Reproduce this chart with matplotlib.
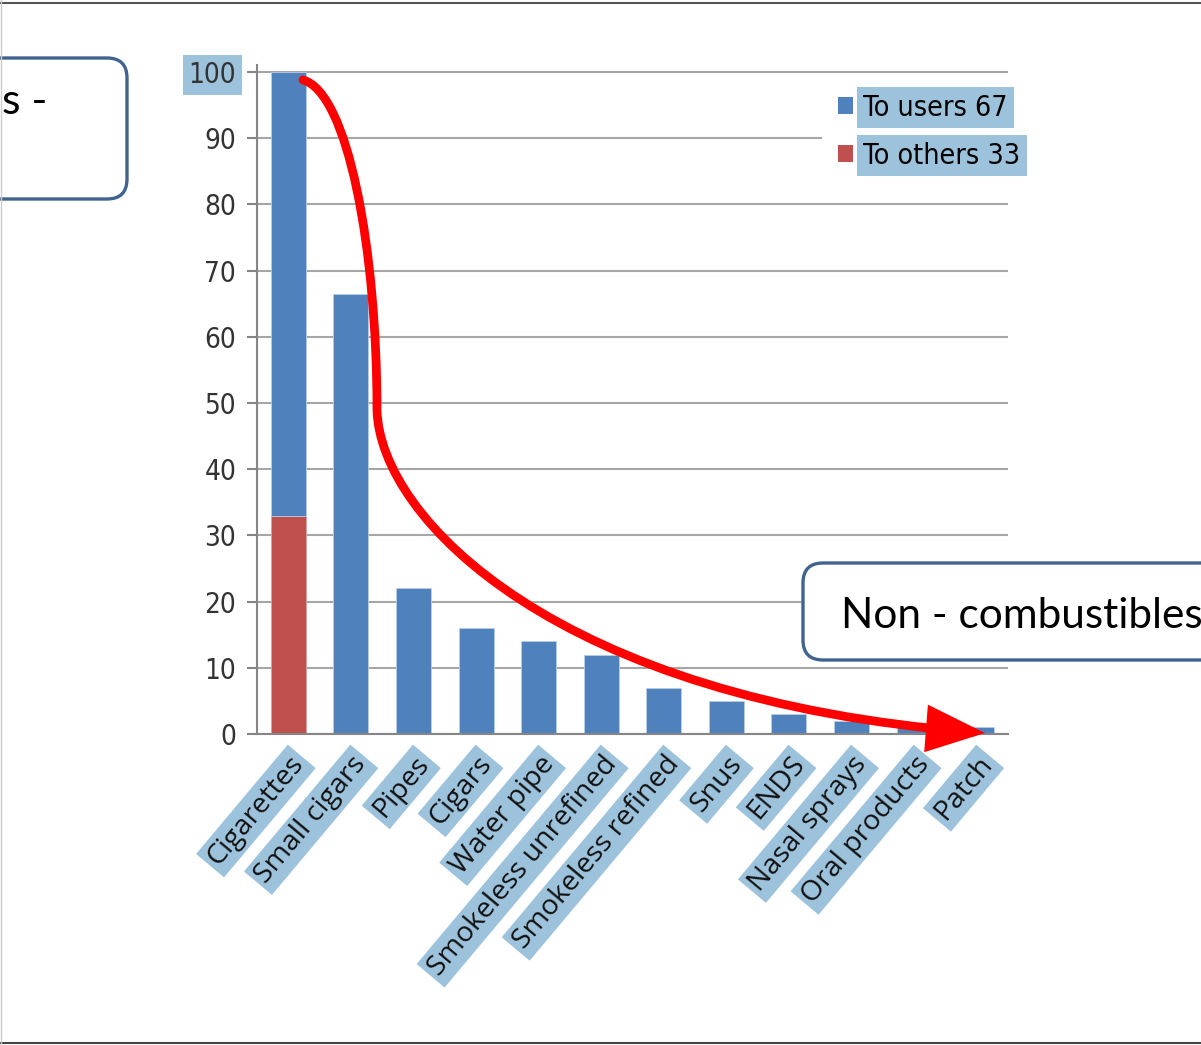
import matplotlib
matplotlib.use('Agg')
import matplotlib.pyplot as plt
from matplotlib.patches import Patch, FancyBboxPatch, FancyArrowPatch
from matplotlib.path import Path
from matplotlib.lines import Line2D
from matplotlib.font_manager import FontProperties
import numpy as np

# ---------------- data ----------------
categories = ["Cigarettes", "Small cigars", "Pipes", "Cigars", "Water pipe",
              "Smokeless unrefined", "Smokeless refined", "Snus", "ENDS",
              "Nasal sprays", "Oral products", "Patch"]
to_others = [33, 0, 0, 0, 0, 0, 0, 0, 0, 0, 0, 0]
to_users = [67, 66.5, 22, 16, 14, 12, 7, 5, 3, 2, 1, 1]
legend_labels = ["To users 67", "To others 33"]
y_ticks = list(range(0, 101, 10))
box_left_text = "s -"
box_right_text = "Non - combustibles"

# ---------------- style ----------------
BLUE = '#4F81BD'
RED = '#C0504D'
LBLUE = '#9DC3DC'
GRID = '#A6A6A6'
SPINE = '#868686'
BOXEDGE = '#41648F'

W, H = 1201, 1045
fig = plt.figure(figsize=(W / 100, H / 100), dpi=100)
fig.patch.set_facecolor('white')


def fx(px):
    return px / W


def fy(py):
    return 1 - py / H


ax = fig.add_axes([fx(257), fy(734), 751 / W, 662 * 1.01 / H])
x = np.arange(len(categories))

ax.bar(x, to_others, width=0.56, color=RED, edgecolor='#d9a3a2', linewidth=0.6, zorder=2)
ax.bar(x, to_users, bottom=to_others, width=0.56, color=BLUE,
       edgecolor='#b9cde5', linewidth=0.6, zorder=2)

ax.set_xlim(-0.5, len(categories) - 0.5)
ax.set_ylim(0, 101)
ax.set_yticks(y_ticks)
ytick_fp = FontProperties(family='DejaVu Sans', stretch='condensed', size=20)
ax.set_yticklabels([str(v) for v in y_ticks], fontproperties=ytick_fp, color='#333333')
ax.yaxis.grid(True, color=GRID, linewidth=1.5, zorder=0)
ax.set_axisbelow(True)
ax.tick_params(axis='y', direction='out', length=7, width=1.5, color=SPINE, pad=8)
for s in ['top', 'right']:
    ax.spines[s].set_visible(False)
for s in ['left', 'bottom']:
    ax.spines[s].set_color(SPINE)
    ax.spines[s].set_linewidth(1.5)
ax.spines['bottom'].set_zorder(3)

# "100" highlighted
for t in ax.get_yticklabels():
    if t.get_text() == '100':
        t.set_bbox(dict(boxstyle='square,pad=0.2', fc=LBLUE, ec='none'))

ax.set_xticks(x)
ax.set_xticklabels(categories, rotation=50, ha='right', va='top', rotation_mode='anchor',
                   family=['Open Sans', 'DejaVu Sans'], fontsize=20.5, color='#111111')
for t in ax.get_xticklabels():
    t.set_bbox(dict(boxstyle='square,pad=0.15', fc=LBLUE, ec='none'))
ax.tick_params(axis='x', length=0, pad=12)

# legend
handles = [Patch(facecolor=BLUE, edgecolor='none'), Patch(facecolor=RED, edgecolor='none')]
leg_fp = FontProperties(family='DejaVu Sans', stretch='condensed', size=20.5)
leg = ax.legend(handles, legend_labels, loc='upper left',
                bbox_to_anchor=(fx(822), fy(78)), bbox_transform=fig.transFigure,
                frameon=True, facecolor='white', edgecolor='none', framealpha=1,
                fancybox=False, prop=leg_fp,
                handlelength=0.55, handleheight=0.55, handletextpad=0.35,
                labelspacing=0.7, borderpad=0.55, borderaxespad=0)
for t in leg.get_texts():
    t.set_bbox(dict(boxstyle='square,pad=0.22', fc=LBLUE, ec='none'))

# red trend arrow (annotation), in figure pixel space
pts = [(303, 80), (348, 92), (377, 250), (377, 410),
       (380, 520), (560, 700), (985, 733)]
verts = [(fx(a), fy(b)) for a, b in pts]
codes = [Path.MOVETO] + [Path.CURVE4] * 6
arrow = FancyArrowPatch(path=Path(verts, codes), transform=fig.transFigure,
                        arrowstyle='-|>,head_length=31,head_width=12.5',
                        mutation_scale=1, color='#FF0000', linewidth=6.3,
                        shrinkA=0, shrinkB=0, zorder=4, joinstyle='miter',
                        capstyle='round')
fig.add_artist(arrow)


# rounded text boxes
def rbox(x0, y0, x1, y1, r=20):
    p = FancyBboxPatch((fx(x0), fy(y1)), (x1 - x0) / W, (y1 - y0) / H,
                       boxstyle=f'round,pad=0,rounding_size={r / W}',
                       mutation_aspect=W / H, transform=fig.transFigure,
                       facecolor='white', edgecolor=BOXEDGE, linewidth=2.4, zorder=3)
    fig.add_artist(p)


rbox(-60, 58, 127, 199)
rbox(803, 563, 1260, 660)
fig.text(fx(2), fy(114), box_left_text, fontsize=31, family=['Lato', 'DejaVu Sans'],
         ha='left', va='baseline', color='black', zorder=5)
fig.text(fx(841), fy(628), box_right_text, fontsize=30.5, family=['Lato', 'DejaVu Sans'],
         ha='left', va='baseline', color='black', zorder=5)

# slide frame lines
fig.add_artist(Line2D([0, 1], [fy(3), fy(3)], transform=fig.transFigure,
                      color='#555555', linewidth=1.5, zorder=6))
fig.add_artist(Line2D([0, 1], [fy(1043), fy(1043)], transform=fig.transFigure,
                      color='#444444', linewidth=1.5, zorder=6))
fig.add_artist(Line2D([fx(0.6), fx(0.6)], [0, 1], transform=fig.transFigure,
                      color='#cccccc', linewidth=1.0, zorder=6))

fig.savefig('out.png', dpi=100, facecolor='white')
